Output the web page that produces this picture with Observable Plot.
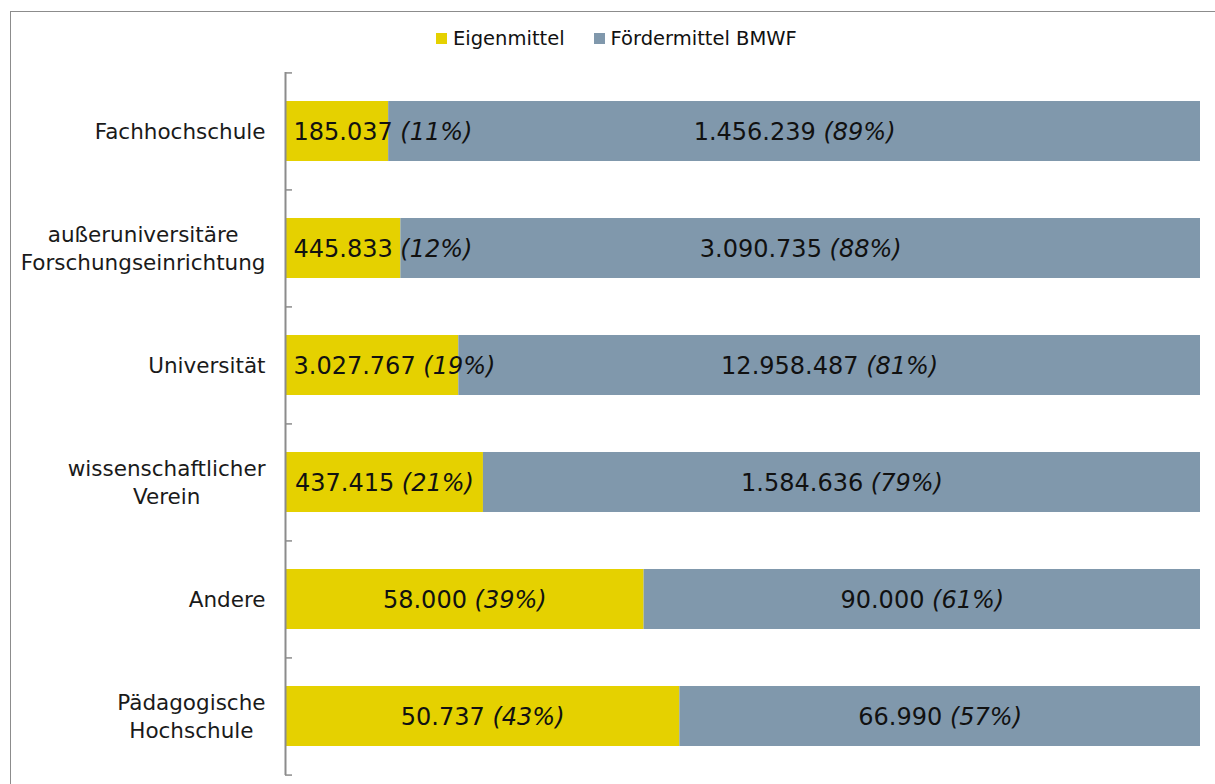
<!DOCTYPE html>
<html>
<head>
<meta charset="utf-8">
<script src="https://cdn.jsdelivr.net/npm/d3@7"></script>
<script src="https://cdn.jsdelivr.net/npm/@observablehq/plot@0.6"></script>
<style>
  html, body { margin: 0; padding: 0; background: #fff; overflow: hidden; }
  #wrap { position: relative; width: 1215px; height: 784px; font-family: "DejaVu Sans", Verdana, sans-serif; }
  #frame { position: absolute; left: 10px; top: 11px; width: 1300px; height: 900px; border: 1.5px solid #8c8c8c; box-sizing: border-box; }
  #legend { position: absolute; left: 436px; top: 27px; display: flex; align-items: center; font-size: 19.5px; color: #111; white-space: nowrap; }
  #legend .item { display: flex; align-items: center; margin-right: 29px; }
  #legend .sw { width: 11px; height: 11px; margin-right: 6px; }
  #chart { position: absolute; left: 0; top: 0; }
</style>
</head>
<body>
<div id="wrap">
  <div id="frame"></div>
  <div id="legend"></div>
  <div id="chart"></div>
</div>
<script>
// ---- data ----
const categories = ["Fachhochschule", "außeruniversitäre\nForschungseinrichtung", "Universität", "wissenschaftlicher\nVerein", "Andere", "Pädagogische\nHochschule"];
const eigenmittel = [185037, 445833, 3027767, 437415, 58000, 50737];
const foerdermittel = [1456239, 3090735, 12958487, 1584636, 90000, 66990];
const eigenPct = [11, 12, 19, 21, 39, 43];
const foerderPct = [89, 88, 81, 79, 61, 57];
const seriesNames = ["Eigenmittel", "Fördermittel BMWF"];
const seriesColors = ["#e5d100", "#8098ac"];

// ---- layout constants ----
const W = 1215, H = 784;
const mLeft = 285, mRight = 15, mTop = 72, mBottom = 9;
const plotW = W - mLeft - mRight;
const step = (H - mTop - mBottom) / categories.length;
const FONT = "'DejaVu Sans'";
const barFont = 24, yFont = 21.5;

const de = d3.formatLocale({decimal: ",", thousands: ".", grouping: [3], currency: ["", " €"]});
const fmt = de.format(",d");

const ctx = document.createElement("canvas").getContext("2d");
function tw(str, italic, size) {
  ctx.font = (italic ? "italic " : "") + size + "px " + FONT;
  return ctx.measureText(str).width;
}
const px2pct = p => p / plotW * 100;

// ---- rows ----
const segs = [];
const labels = [];
categories.forEach((c, i) => {
  const tot = eigenmittel[i] + foerdermittel[i];
  const s1 = eigenmittel[i] / tot * 100;
  segs.push({cat: c, series: seriesNames[0], x1: 0, x2: s1});
  segs.push({cat: c, series: seriesNames[1], x1: s1, x2: 100});
  const parts = [[fmt(eigenmittel[i]), eigenPct[i], 0, s1], [fmt(foerdermittel[i]), foerderPct[i], s1, 100]];
  parts.forEach(([v, p, a, b]) => {
    const pstr = "(" + p + "%)";
    const w = tw(v + " ", false, barFont) + tw(pstr, true, barFont);
    const mid = (a + b) / 2;
    const x = Math.max(mid, px2pct(8 + w / 2));
    labels.push({cat: c, x, text: v + " " + pstr});
  });
});
const yLabels = categories.map(c => {
  const w = d3.max(c.split("\n"), l => tw(l, false, yFont));
  return {cat: c, x: -px2pct(20 + w / 2)};
});
const ticks = categories.map((c, i) => ({cat: c, last: i === categories.length - 1}));

// ---- legend ----
const lg = document.getElementById("legend");
seriesNames.forEach((n, i) => {
  const it = document.createElement("div");
  it.className = "item";
  const sw = document.createElement("div");
  sw.className = "sw";
  sw.style.background = seriesColors[i];
  const t = document.createElement("span");
  t.textContent = n;
  it.appendChild(sw); it.appendChild(t);
  lg.appendChild(it);
});

// ---- chart ----
const chart = Plot.plot({
  width: W, height: H,
  marginLeft: mLeft, marginRight: mRight, marginTop: mTop, marginBottom: mBottom,
  style: {fontFamily: FONT, background: "transparent", overflow: "visible"},
  x: {domain: [0, 100], axis: null},
  y: {domain: categories, paddingInner: 0.49, paddingOuter: 0.245, axis: null},
  color: {domain: seriesNames, range: seriesColors},
  marks: [
    Plot.ruleY(ticks, {y: "cat", x1: 0, x2: px2pct(7), dy: -step / 2, stroke: "#8c8c8c", strokeWidth: 1.5}),
    Plot.ruleY(ticks.filter(d => d.last), {y: "cat", x1: 0, x2: px2pct(7), dy: step / 2, stroke: "#8c8c8c", strokeWidth: 1.5}),
    Plot.barX(segs, {y: "cat", x1: "x1", x2: "x2", fill: "series"}),
    Plot.ruleX([0], {stroke: "#8c8c8c", strokeWidth: 2}),
    Plot.text(labels, {y: "cat", x: "x", text: "text", fontSize: barFont, fill: "#111", textAnchor: "middle", dy: 1}),
    Plot.text(yLabels, {y: "cat", x: "x", text: "cat", fontSize: yFont, fill: "#1a1a1a", textAnchor: "middle", lineHeight: 1.3, dy: -1})
  ]
});
document.getElementById("chart").appendChild(chart);

// italicise the percentage part of each bar label
d3.select(chart).selectAll("text").each(function() {
  if (this.querySelector("tspan")) return;
  const full = this.textContent;
  const k = full.indexOf(" (");
  if (k < 0 || !/%\)$/.test(full)) return;
  const sel = d3.select(this);
  sel.text(null);
  sel.append("tspan").text(full.slice(0, k + 1));
  sel.append("tspan").attr("font-style", "italic").style("font-style", "italic").text(full.slice(k + 1));
});
</script>
</body>
</html>
